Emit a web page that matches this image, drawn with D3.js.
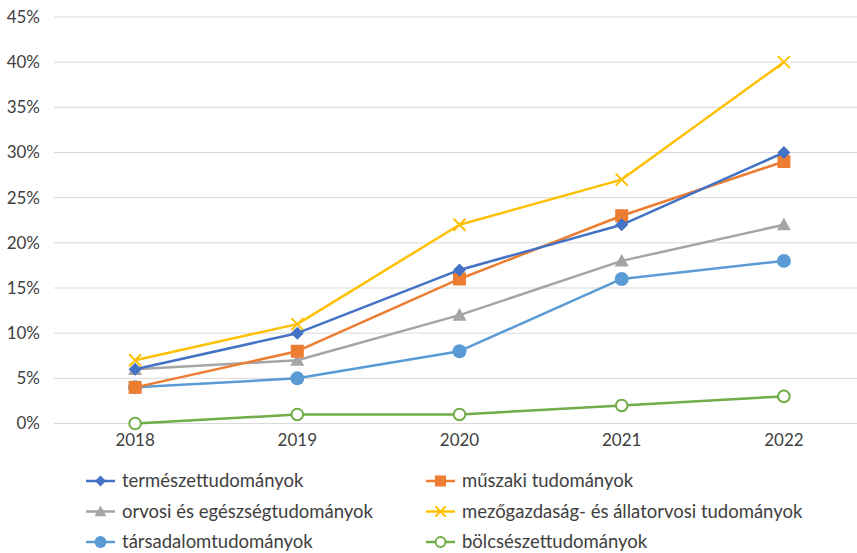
<!DOCTYPE html>
<html>
<head>
<meta charset="utf-8">
<script src="https://cdn.jsdelivr.net/npm/d3@7"></script>
<style>
  html, body { margin: 0; padding: 0; background: #fff; }
  svg { display: block; font-family: Lato, "Open Sans", sans-serif; }
</style>
</head>
<body>
<svg id="chart" width="857" height="553"></svg>
<script>
// Share of graduates by field, 2018–2022 (percent)
const years = ["2018", "2019", "2020", "2021", "2022"];
const yTicks = [0, 5, 10, 15, 20, 25, 30, 35, 40, 45];

const termeszet   = [6, 10, 17, 22, 30];
const muszaki     = [4, 8, 16, 23, 29];
const orvosi      = [6, 7, 12, 18, 22];
const mezogazdasag = [7, 11, 22, 27, 40];
const tarsadalom  = [4, 5, 8, 16, 18];
const bolcseszet  = [0, 1, 1, 2, 3];

const seriesNames = [
  "természettudományok",
  "műszaki tudományok",
  "orvosi és egészségtudományok",
  "mezőgazdaság- és állatorvosi tudományok",
  "társadalomtudományok",
  "bölcsészettudományok"
];

const series = [
  { name: seriesNames[0], values: termeszet,    color: "#4472C4", marker: "diamond" },
  { name: seriesNames[1], values: muszaki,      color: "#ED7D31", marker: "square" },
  { name: seriesNames[2], values: orvosi,       color: "#A5A5A5", marker: "triangle" },
  { name: seriesNames[3], values: mezogazdasag, color: "#FFC000", marker: "cross" },
  { name: seriesNames[4], values: tarsadalom,   color: "#5B9BD5", marker: "circle" },
  { name: seriesNames[5], values: bolcseszet,   color: "#70AD47", marker: "open" }
];

const svg = d3.select("#chart");
const plot = { left: 54, right: 865, top: 17, bottom: 423.5 };

const x = d3.scaleBand().domain(years).range([plot.left, plot.right]);
const y = d3.scaleLinear().domain([0, 45]).range([plot.bottom, plot.top]);
const cx = d => x(d) + x.bandwidth() / 2;

// horizontal gridlines
svg.append("g")
  .selectAll("line")
  .data(yTicks)
  .join("line")
  .attr("x1", plot.left).attr("x2", plot.right)
  .attr("y1", d => y(d)).attr("y2", d => y(d))
  .attr("stroke", "#D9D9D9").attr("stroke-width", 1);

// y axis labels
const yAxis = d3.axisLeft(y).tickValues(yTicks).tickFormat(d => d + "%").tickSize(0).tickPadding(0);
svg.append("g")
  .attr("transform", `translate(40,0)`)
  .call(yAxis)
  .call(g => g.select(".domain").remove())
  .call(g => g.selectAll("text")
    .attr("fill", "#404040").attr("font-size", 17)
    .attr("font-family", "Lato, sans-serif"));

// x axis labels
const xAxis = d3.axisBottom(x).tickSize(0).tickPadding(0);
svg.append("g")
  .attr("transform", `translate(0,${plot.bottom + 10})`)
  .call(xAxis)
  .call(g => g.select(".domain").remove())
  .call(g => g.selectAll("text")
    .attr("fill", "#404040").attr("font-size", 17)
    .attr("font-family", "Lato, sans-serif"));

function drawMarker(g, type, color, px, py, scale) {
  const s = scale || 1;
  if (type === "diamond") {
    const r = 6.5 * s;
    g.append("path")
      .attr("d", `M${px},${py - r}L${px + r},${py}L${px},${py + r}L${px - r},${py}Z`)
      .attr("fill", color);
  } else if (type === "square") {
    const h = 6.5 * s;
    g.append("rect").attr("x", px - h).attr("y", py - h)
      .attr("width", 2 * h).attr("height", 2 * h).attr("fill", color);
  } else if (type === "triangle") {
    const h = 7 * s;
    g.append("path")
      .attr("d", `M${px},${py - h}L${px + h},${py + h * 0.8}L${px - h},${py + h * 0.8}Z`)
      .attr("fill", color);
  } else if (type === "cross") {
    const h = 6 * s;
    g.append("path")
      .attr("d", `M${px - h},${py - h}L${px + h},${py + h}M${px - h},${py + h}L${px + h},${py - h}`)
      .attr("stroke", color).attr("stroke-width", 2).attr("fill", "none");
  } else if (type === "circle") {
    g.append("circle").attr("cx", px).attr("cy", py).attr("r", 7 * s).attr("fill", color);
  } else if (type === "open") {
    g.append("circle").attr("cx", px).attr("cy", py).attr("r", 5.8 * s)
      .attr("fill", "#fff").attr("stroke", color).attr("stroke-width", 2);
  }
}

const line = d3.line().x((d, i) => cx(years[i])).y(d => y(d));

// draw series in reverse so the first series sits on top
const ordered = series.slice().reverse();
ordered.forEach(s => {
  const g = svg.append("g");
  g.append("path")
    .attr("d", line(s.values))
    .attr("fill", "none")
    .attr("stroke", s.color)
    .attr("stroke-width", 2.5)
    .attr("stroke-linejoin", "round");
  s.values.forEach((v, i) => drawMarker(g, s.marker, s.color, cx(years[i]), y(v)));
});

// legend: two columns, three rows
const legendCols = [86, 426];
const legendRows = [481, 511.5, 542];
series.forEach((s, i) => {
  const lx = legendCols[i % 2];
  const ly = legendRows[Math.floor(i / 2)];
  const g = svg.append("g");
  g.append("line").attr("x1", lx).attr("x2", lx + 29)
    .attr("y1", ly).attr("y2", ly)
    .attr("stroke", s.color).attr("stroke-width", 2.5);
  drawMarker(g, s.marker, s.color, lx + 14.5, ly, 0.85);
  g.append("text").attr("x", lx + 36).attr("y", ly)
    .attr("dy", "0.35em")
    .attr("fill", "#404040").attr("font-size", 18.5)
    .text(s.name);
});
</script>
</body>
</html>
